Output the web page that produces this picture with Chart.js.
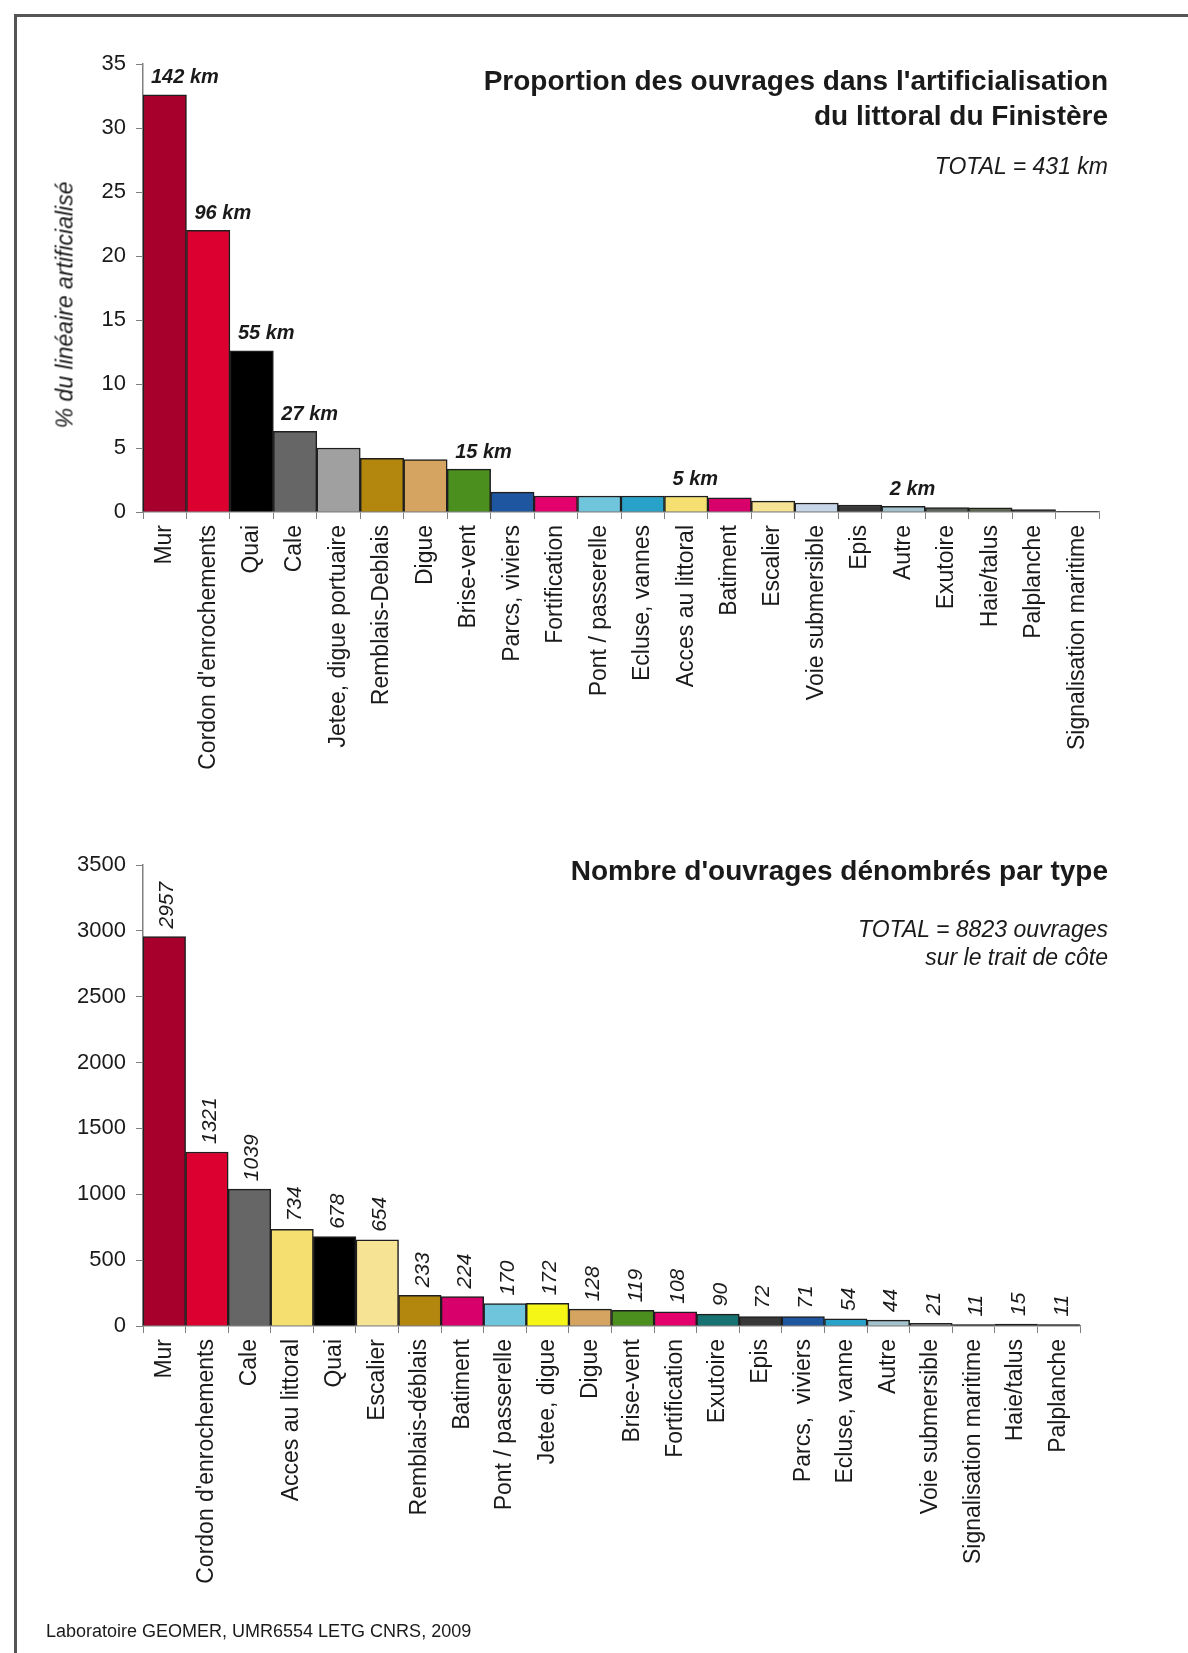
<!DOCTYPE html>
<html lang="fr">
<head>
  <meta charset="UTF-8">
  <title>Ouvrages du littoral du Finistère</title>
  <style>
    body { margin: 0; background: #fff; font-family: "Liberation Sans", Arial, sans-serif; color: #1a1a1a; }
    #page { position: relative; width: 1188px; height: 1653px; overflow: hidden; }
    .frame { position: absolute; left: 14px; top: 14px; width: 2000px; height: 2000px;
             border-left: 3px solid #555; border-top: 3px solid #555; }
    .box { position: absolute; left: 0; width: 1188px; }
    .title { position: absolute; right: 80px; text-align: right; font-weight: bold; font-size: 28px; line-height: 35px; }
    .note { position: absolute; right: 80px; text-align: right; font-style: italic; font-size: 23px; line-height: 28px; }
    .ytitle { position: absolute; left: 65px; top: 305px; transform: translate(-50%, -50%) rotate(-90deg);
              font-style: italic; font-size: 23px; white-space: nowrap; }
    .footer { position: absolute; left: 46px; top: 1621px; font-size: 18px; }
  </style>
</head>
<body>
<div id="page">
  <div class="frame"></div>

  <div class="box" style="top:0;height:800px"><canvas id="kmChart"></canvas></div>
  <div class="box" style="top:800px;height:853px"><canvas id="countChart"></canvas></div>

  <div class="title" style="top:63px">Proportion des ouvrages dans l'artificialisation<br>du littoral du Finistère</div>
  <div class="note" style="top:152px">TOTAL = 431 km</div>
  <div class="ytitle">% du linéaire artificialisé</div>

  <div class="title" style="top:853px">Nombre d'ouvrages dénombrés par type</div>
  <div class="note" style="top:915px">TOTAL = 8823 ouvrages<br>sur le trait de côte</div>

  <div class="footer">Laboratoire GEOMER, UMR6554 LETG CNRS, 2009</div>
</div>

<script src="https://cdn.jsdelivr.net/npm/chart.js"></script>
<script>
  // chart 1 : % du linéaire artificialisé
  const kmLabels = ['Mur', "Cordon d'enrochements", 'Quai', 'Cale', 'Jetee, digue portuaire', 'Remblais-Deblais',
    'Digue', 'Brise-vent', 'Parcs, viviers', 'Fortification', 'Pont / passerelle', 'Ecluse, vannes',
    'Acces au littoral', 'Batiment', 'Escalier', 'Voie submersible', 'Epis', 'Autre', 'Exutoire',
    'Haie/talus', 'Palplanche', 'Signalisation maritime'];
  const kmPercent = [32.6, 22.0, 12.6, 6.3, 5.0, 4.2, 4.1, 3.35, 1.55, 1.25, 1.25, 1.25,
    1.25, 1.1, 0.85, 0.7, 0.55, 0.45, 0.35, 0.33, 0.18, 0.02];
  const kmText = ['142 km', '96 km', '55 km', '27 km', '', '', '', '15 km', '', '', '', '',
    '5 km', '', '', '', '', '2 km', '', '', '', ''];
  const kmColors = ['#a8002c', '#dc0030', '#000000', '#666666', '#a0a0a0', '#b3860d', '#d4a460', '#4b8f1e',
    '#1f56a0', '#e4006c', '#6fc5dc', '#28a2c8', '#f5df70', '#d8006b', '#f7e394', '#c8d6ea',
    '#383838', '#a3c3cc', '#5a6258', '#5f6650', '#333333', '#333333'];
  const kmTicks = [0, 5, 10, 15, 20, 25, 30, 35];

  // chart 2 : nombre d'ouvrages
  const countLabels = ['Mur', "Cordon d'enrochements", 'Cale', 'Acces au littoral', 'Quai', 'Escalier',
    'Remblais-déblais', 'Batiment', 'Pont / passerelle', 'Jetee, digue', 'Digue', 'Brise-vent',
    'Fortification', 'Exutoire', 'Epis', 'Parcs,  viviers', 'Ecluse, vanne', 'Autre',
    'Voie submersible', 'Signalisation maritime', 'Haie/talus', 'Palplanche'];
  const countValues = [2957, 1321, 1039, 734, 678, 654, 233, 224, 170, 172, 128, 119, 108, 90, 72, 71,
    54, 44, 21, 11, 15, 11];
  const countColors = ['#a8002c', '#dc0030', '#666666', '#f5df70', '#000000', '#f7e394', '#b3860d', '#d8006b',
    '#6fc5dc', '#f5f516', '#d4a460', '#4b8f1e', '#e4006c', '#177272', '#383838', '#1f56a0',
    '#28a2c8', '#a3c3cc', '#6a6a6a', '#222222', '#222222', '#222222'];
  const countTicks = [0, 500, 1000, 1500, 2000, 2500, 3000, 3500];

  const FONT = '"Liberation Sans", Arial, sans-serif';

  // labels above the bars
  const barText = {
    id: 'barText',
    afterDatasetsDraw(chart, args, opts) {
      const ctx = chart.ctx;
      const bars = chart.getDatasetMeta(0).data;
      ctx.save();
      ctx.fillStyle = '#1a1a1a';
      bars.forEach((bar, i) => {
        const txt = opts.texts[i];
        if (!txt) return;
        if (opts.rotate) {
          ctx.save();
          ctx.translate(bar.x + 3, bar.y - 8);
          ctx.rotate(-Math.PI / 2);
          ctx.font = 'italic 21px ' + FONT;
          ctx.textAlign = 'left';
          ctx.textBaseline = 'middle';
          ctx.fillText(txt, 0, 0);
          ctx.restore();
        } else {
          ctx.font = 'italic bold 20px ' + FONT;
          ctx.textAlign = 'left';
          ctx.textBaseline = 'middle';
          ctx.fillText(txt, bar.x - bar.width / 2 + 8, bar.y - 17);
        }
      });
      ctx.restore();
    }
  };

  function makeChart(id, labels, values, colors, ticks, texts, rotate, pad, xHeight) {
    const step = ticks[1] - ticks[0];
    return new Chart(document.getElementById(id), {
      type: 'bar',
      data: {
        labels: labels,
        datasets: [{
          data: values,
          backgroundColor: colors,
          borderColor: '#1e1e1e',
          borderWidth: 1.5,
          barPercentage: 1,
          categoryPercentage: 1
        }]
      },
      options: {
        responsive: true,
        maintainAspectRatio: false,
        animation: false,
        layout: { padding: pad },
        plugins: {
          legend: { display: false },
          tooltip: { enabled: false },
          barText: { texts: texts, rotate: rotate }
        },
        scales: {
          x: {
            grid: { drawOnChartArea: false, drawTicks: true, tickLength: 7, color: '#808080', offset: true },
            border: { display: true, color: '#808080', width: 1.5 },
            ticks: { color: '#1a1a1a', font: { family: FONT, size: 23 }, minRotation: 90, maxRotation: 90,
                     autoSkip: false, padding: 6 },
            afterFit(scale) { scale.height = xHeight; }
          },
          y: {
            min: ticks[0],
            max: ticks[ticks.length - 1],
            grid: { drawOnChartArea: false, drawTicks: true, tickLength: 7, color: '#808080' },
            border: { display: true, color: '#808080', width: 1.5 },
            ticks: { stepSize: step, color: '#1a1a1a', font: { family: FONT, size: 22 }, padding: 10,
                     callback: v => String(v) },
            afterFit(scale) { scale.width = 143; }
          }
        }
      },
      plugins: [barText]
    });
  }

  makeChart('kmChart', kmLabels, kmPercent, kmColors, kmTicks, kmText, false,
    { top: 64, right: 89, left: 0, bottom: 0 }, 288);
  makeChart('countChart', countLabels, countValues, countColors, countTicks,
    countValues.map(String), true, { top: 65, right: 108, left: 0, bottom: 0 }, 327);
</script>
</body>
</html>
